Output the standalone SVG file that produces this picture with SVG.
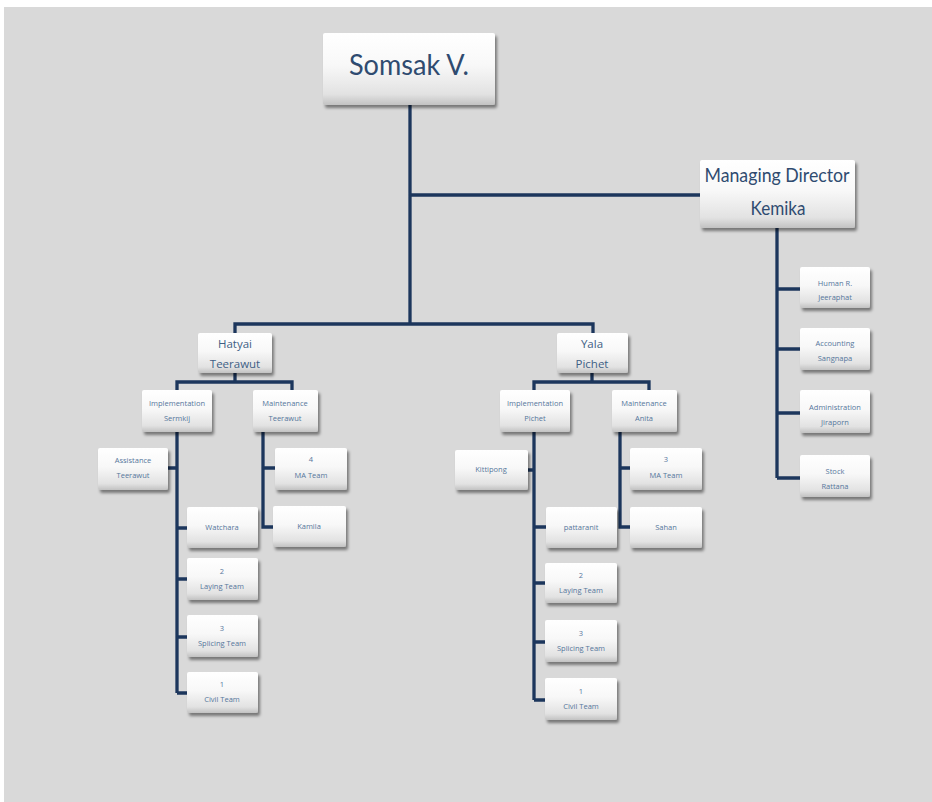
<svg xmlns="http://www.w3.org/2000/svg" width="932" height="802" viewBox="0 0 932 802">
<defs>
<linearGradient id="bx" x1="0" y1="0" x2="0" y2="1">
<stop offset="0" stop-color="#ffffff"/>
<stop offset="0.45" stop-color="#f8f8f8"/>
<stop offset="0.85" stop-color="#e2e2e2"/>
<stop offset="1" stop-color="#c2c2c2"/>
</linearGradient>
<filter id="sh" x="-10%" y="-10%" width="125%" height="135%">
<feDropShadow dx="2" dy="3" stdDeviation="1.8" flood-color="#000" flood-opacity="0.45"/>
</filter>
<style>
.b{fill:url(#bx);filter:url(#sh);}
.big{font-family:Lato,"Open Sans","Liberation Sans",sans-serif;fill:#2f4b70;text-anchor:middle;}
.mid{font-family:"Open Sans","Liberation Sans",sans-serif;font-size:11.5px;fill:#3f5f85;text-anchor:middle;}
.sm{font-family:"Open Sans","Liberation Sans",sans-serif;font-size:7.5px;fill:#56779c;text-anchor:middle;}
.c{fill:none;stroke:#1c365c;stroke-width:3.3;}
</style>
</defs>
<rect x="0" y="0" width="932" height="802" fill="#ffffff"/>
<rect x="4" y="7" width="928" height="795" fill="#d9d9d9"/>
<g id="connectors">
<path class="c" d="M410 105 V324 M410 195 H700 M235 333 V324 H593 V333"/>
<path class="c" d="M777 228 V478 M777 289 H800 M777 349 H800 M777 413 H800 M777 478 H800"/>
<path class="c" d="M235 373 V382 M177 390 V382 H292 V390 M177 432 V693 M168 468 H177 M177 528 H187 M177 579 H187 M177 637 H187 M177 693 H187 M263 432 V527 H273 M263 468 H275"/>
<path class="c" d="M592 373 V382 M534 390 V382 H649 V390 M534 432 V700 M528 470 H534 M534 527 H546 M534 583 H545 M534 642 H545 M534 700 H545 M620 432 V527 H630 M620 468 H630"/>
</g>
<g id="somsak"><rect class="b" x="323" y="33" width="172" height="72" rx="2"/><text class="big" x="409" y="75" font-size="28" textLength="120" lengthAdjust="spacingAndGlyphs">Somsak V.</text></g>
<g id="md"><rect class="b" x="700" y="160" width="155" height="68" rx="2"/><text class="big" x="777" y="182" font-size="19" textLength="145" lengthAdjust="spacingAndGlyphs">Managing Director</text><text class="big" x="778" y="215" font-size="19" textLength="55" lengthAdjust="spacingAndGlyphs">Kemika</text></g>
<g id="hr"><rect class="b" x="800" y="267" width="70" height="41" rx="2"/><text class="sm" x="835" y="286">Human R.</text><text class="sm" x="835" y="300">Jeeraphat</text></g>
<g id="acc"><rect class="b" x="800" y="328" width="70" height="42" rx="2"/><text class="sm" x="835" y="346">Accounting</text><text class="sm" x="835" y="361">Sangnapa</text></g>
<g id="adm"><rect class="b" x="800" y="390" width="70" height="43" rx="2"/><text class="sm" x="835" y="410">Administration</text><text class="sm" x="835" y="425">Jiraporn</text></g>
<g id="stock"><rect class="b" x="800" y="455" width="70" height="42" rx="2"/><text class="sm" x="835" y="474">Stock</text><text class="sm" x="835" y="489">Rattana</text></g>
<g id="hatyai"><rect class="b" x="198" y="333" width="74" height="40" rx="2"/><text class="mid" x="235" y="348">Hatyai</text><text class="mid" x="235" y="368">Teerawut</text></g>
<g id="h-impl"><rect class="b" x="142" y="390" width="70" height="42" rx="2"/><text class="sm" x="177" y="406">Implementation</text><text class="sm" x="177" y="421">Sermkij</text></g>
<g id="h-maint"><rect class="b" x="253" y="390" width="65" height="42" rx="2"/><text class="sm" x="285" y="406">Maintenance</text><text class="sm" x="285" y="421">Teerawut</text></g>
<g id="h-assist"><rect class="b" x="98" y="448" width="70" height="42" rx="2"/><text class="sm" x="133" y="463">Assistance</text><text class="sm" x="133" y="478">Teerawut</text></g>
<g id="h-ma"><rect class="b" x="275" y="448" width="72" height="42" rx="2"/><text class="sm" x="311" y="462">4</text><text class="sm" x="311" y="478">MA Team</text></g>
<g id="h-watchara"><rect class="b" x="187" y="507" width="71" height="41" rx="2"/><text class="sm" x="222" y="530">Watchara</text></g>
<g id="h-kamila"><rect class="b" x="273" y="506" width="73" height="41" rx="2"/><text class="sm" x="309" y="529">Kamila</text></g>
<g id="h-laying"><rect class="b" x="187" y="558" width="71" height="42" rx="2"/><text class="sm" x="222" y="574">2</text><text class="sm" x="222" y="589">Laying Team</text></g>
<g id="h-splicing"><rect class="b" x="187" y="615" width="71" height="42" rx="2"/><text class="sm" x="222" y="631">3</text><text class="sm" x="222" y="646">Splicing Team</text></g>
<g id="h-civil"><rect class="b" x="187" y="672" width="71" height="41" rx="2"/><text class="sm" x="222" y="687">1</text><text class="sm" x="222" y="702">Civil Team</text></g>
<g id="yala"><rect class="b" x="557" y="333" width="71" height="40" rx="2"/><text class="mid" x="592" y="348">Yala</text><text class="mid" x="592" y="368">Pichet</text></g>
<g id="y-impl"><rect class="b" x="500" y="390" width="70" height="42" rx="2"/><text class="sm" x="535" y="406">Implementation</text><text class="sm" x="535" y="421">Pichet</text></g>
<g id="y-maint"><rect class="b" x="612" y="390" width="65" height="42" rx="2"/><text class="sm" x="644" y="406">Maintenance</text><text class="sm" x="644" y="421">Anita</text></g>
<g id="y-kittipong"><rect class="b" x="455" y="450" width="73" height="40" rx="2"/><text class="sm" x="491" y="472">Kittipong</text></g>
<g id="y-ma"><rect class="b" x="630" y="448" width="72" height="42" rx="2"/><text class="sm" x="666" y="462">3</text><text class="sm" x="666" y="478">MA Team</text></g>
<g id="y-pattaranit"><rect class="b" x="546" y="507" width="71" height="41" rx="2"/><text class="sm" x="581" y="530">pattaranit</text></g>
<g id="y-sahan"><rect class="b" x="630" y="507" width="72" height="41" rx="2"/><text class="sm" x="666" y="530">Sahan</text></g>
<g id="y-laying"><rect class="b" x="545" y="563" width="72" height="40" rx="2"/><text class="sm" x="581" y="578">2</text><text class="sm" x="581" y="593">Laying Team</text></g>
<g id="y-splicing"><rect class="b" x="545" y="620" width="72" height="42" rx="2"/><text class="sm" x="581" y="636">3</text><text class="sm" x="581" y="651">Splicing Team</text></g>
<g id="y-civil"><rect class="b" x="545" y="678" width="72" height="42" rx="2"/><text class="sm" x="581" y="694">1</text><text class="sm" x="581" y="709">Civil Team</text></g>
</svg>
